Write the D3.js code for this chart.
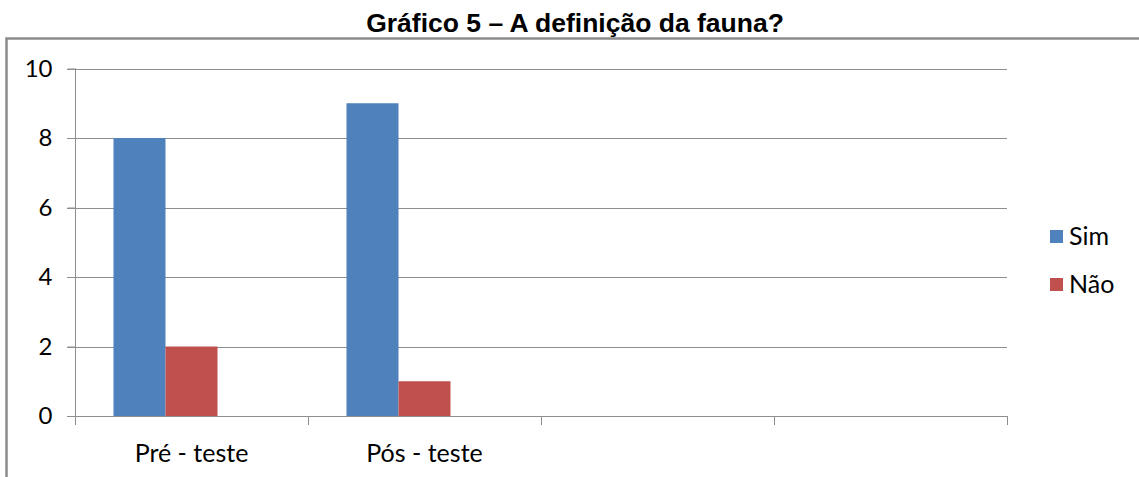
<!DOCTYPE html>
<html>
<head>
<meta charset="utf-8">
<script src="https://cdn.jsdelivr.net/npm/d3@7"></script>
<style>
  body { margin: 0; background: #fff; }
  svg { display: block; }
</style>
</head>
<body>
<svg id="chart"></svg>
<script>
// chart data
const categories = ["Pré - teste", "Pós - teste", "", " "];
const seriesNames = ["Sim", "Não"];
const sim = [8, 9, null, null];
const nao = [2, 1, null, null];
const yTicks = [0, 2, 4, 6, 8, 10];
const colors = ["#4F81BD", "#C0504D"];

const width = 1139, height = 477;
const svg = d3.select("#chart").attr("width", width).attr("height", height);

// title
svg.append("text")
    .attr("x", 575).attr("y", 32)
    .attr("text-anchor", "middle")
    .style("font-family", "Liberation Sans, Arial, sans-serif")
    .style("font-weight", "bold")
    .style("font-size", "26.5px")
    .text("Gráfico 5 – A definição da fauna?");

// outer frame (cut off at right / bottom)
svg.append("path")
    .attr("d", "M6.5,490 L6.5,38.5 L1145,38.5")
    .attr("fill", "none")
    .attr("stroke", "#8c8c8c")
    .attr("stroke-width", 2.5);

const plotL = 75, plotR = 1007, plotT = 68.5, plotB = 416;

const x = d3.scaleBand().domain(categories).range([plotL, plotR]);
// three slots per category, Excel leaves the third one empty
const xs = d3.scaleBand().domain(["Sim", "Não", "_"]).range([0, x.bandwidth()]).paddingOuter(0.74);
const y = d3.scaleLinear().domain([0, 10]).range([plotB, plotT]);

const font = "Lato, Noto Sans, sans-serif";

// grid lines
svg.append("g").selectAll("line")
    .data(yTicks.filter(d => d > 0))
    .enter().append("line")
    .attr("x1", plotL - 8).attr("x2", plotR)
    .attr("y1", d => Math.round(y(d)) + 0.5).attr("y2", d => Math.round(y(d)) + 0.5)
    .attr("stroke", "#8e8e8e").attr("stroke-width", 1);

// bars
const rows = categories.map((c, i) => ({cat: c, values: [sim[i], nao[i]]}));
const groups = svg.append("g").selectAll("g")
    .data(rows).enter().append("g")
    .attr("transform", d => `translate(${x(d.cat)},0)`);
groups.selectAll("rect")
    .data(d => d.values.map((v, j) => ({key: seriesNames[j], v: v, j: j})).filter(e => e.v != null))
    .enter().append("rect")
    .attr("x", d => xs(d.key))
    .attr("width", xs.bandwidth())
    .attr("y", d => y(d.v))
    .attr("height", d => y(0) - y(d.v))
    .attr("fill", d => colors[d.j]);

// y axis
const yAxis = svg.append("g")
    .attr("transform", `translate(${plotL + 0.5},0)`)
    .call(d3.axisLeft(y).tickValues(yTicks).tickSize(8).tickPadding(15).tickFormat(d3.format("d")));
yAxis.select(".domain").attr("stroke", "#8e8e8e").attr("d", `M0,${plotT}V${plotB}`);
yAxis.selectAll(".tick line").attr("stroke", "#8e8e8e");
yAxis.selectAll("text")
    .style("font-family", font).style("font-size", "24px").attr("fill", "#000");

// x axis
const xTicks = categories.map(c => x(c)).concat([plotR]);
const xAxis = svg.append("g");
xAxis.append("line")
    .attr("x1", plotL - 8).attr("x2", plotR)
    .attr("y1", plotB + 0.5).attr("y2", plotB + 0.5)
    .attr("stroke", "#8e8e8e");
xAxis.selectAll(".xt").data(xTicks).enter().append("line")
    .attr("x1", d => Math.round(d) + 0.5).attr("x2", d => Math.round(d) + 0.5)
    .attr("y1", plotB).attr("y2", plotB + 9)
    .attr("stroke", "#8e8e8e");
xAxis.selectAll("text").data(categories).enter().append("text")
    .attr("x", d => x(d) + x.bandwidth() / 2)
    .attr("y", 462)
    .attr("text-anchor", "middle")
    .style("font-family", font).style("font-size", "25px")
    .text(d => d);

// legend
const legend = svg.append("g").selectAll("g")
    .data(seriesNames).enter().append("g")
    .attr("transform", (d, i) => `translate(1050,${230 + i * 48})`);
legend.append("rect")
    .attr("width", 13).attr("height", 13)
    .attr("fill", (d, i) => colors[i]);
legend.append("text")
    .attr("x", 19).attr("y", 15)
    .style("font-family", font).style("font-size", "25px")
    .text(d => d);
</script>
</body>
</html>
